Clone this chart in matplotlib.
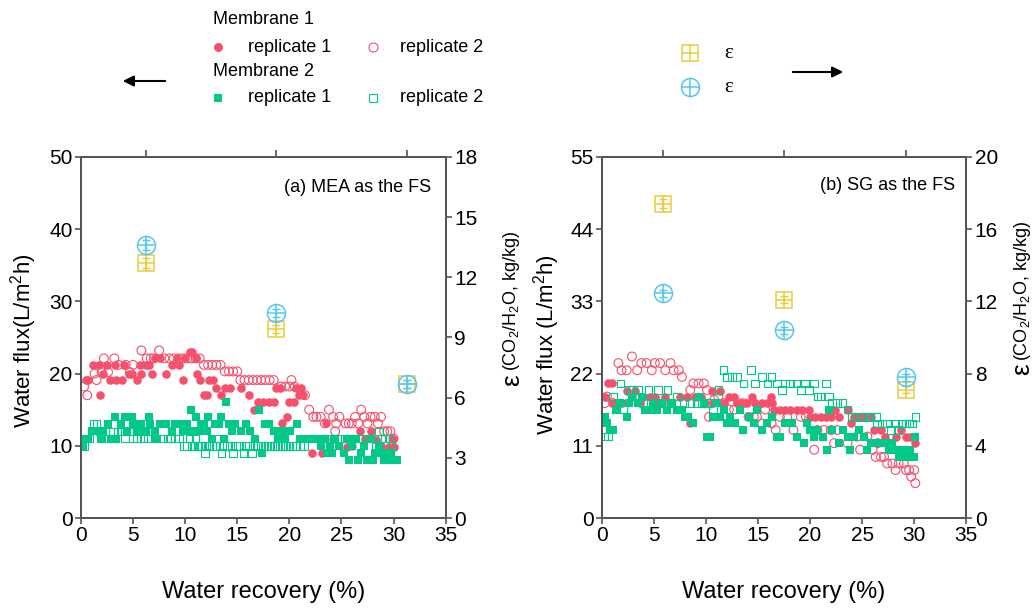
import matplotlib
matplotlib.use("Agg")
import matplotlib.pyplot as plt
from matplotlib.lines import Line2D

plt.rcParams['font.family'] = ['Liberation Sans', 'DejaVu Sans']
plt.rcParams['mathtext.fontset'] = 'custom'
plt.rcParams['mathtext.rm'] = 'Liberation Sans'
plt.rcParams['mathtext.it'] = 'Liberation Sans:italic'

RED = '#f5506c'
GREEN = '#00c98a'
YELLOW = '#ebcb3a'
BLUE = '#53c6f4'
SPINE = '#555555'

# ---------------- panel (a): MEA as the FS ----------------
a_m1r1_x = [0.5, 0.7, 1.2, 1.7, 1.8, 2.1, 2.5, 2.8, 3.3, 3.4, 3.9, 4.1, 4.6, 4.9, 5.35, 5.7, 5.8,
            6.2, 6.5, 6.8, 7.1, 7.6, 8.2, 8.7, 9.2, 9.4, 9.8, 10.0, 10.5, 10.7, 11.0, 11.1, 11.4,
            11.8, 12.1, 12.3, 12.7, 13.0, 13.4, 13.8, 14.3, 15.4, 16.1, 16.6, 17.0, 17.5, 18.0,
            18.5, 18.7, 19.1, 19.3, 19.8, 20.0, 20.4, 20.6, 20.9, 21.1, 21.3, 22.2, 23.1, 23.5,
            24.2, 25.5, 26.0, 26.8, 27.3, 27.8, 28.3, 28.8, 29.6, 29.9, 30.0]
a_m1r1_y = [19.1, 19.1, 21.2, 21.2, 17.0, 20.0, 21.2, 19.1, 21.2, 19.1, 19.1, 21.2, 20.0, 20.0, 19.1, 21.2, 20.0,
            21.2, 21.2, 20.0, 22.1, 22.1, 20.0, 21.2, 22.1, 21.2, 19.1, 22.1, 23.0, 23.0, 22.1, 20.0, 19.1,
            17.0, 17.0, 19.1, 19.1, 18.0, 17.0, 18.0, 18.0, 18.0, 17.0, 15.0, 16.1, 16.1, 16.1,
            16.1, 18.0, 18.0, 13.1, 14.0, 16.1, 16.1, 18.0, 17.0, 18.0, 17.0, 9.0, 9.0, 13.1,
            11.0, 9.9, 10.0, 12.0, 11.0, 12.0, 10.8, 10.0, 9.9, 11.0, 9.9]

a_m1r2_x = [0.3, 0.6, 1.3, 1.5, 2.0, 2.2, 2.6, 3.2, 3.6, 4.3, 4.7, 5.0, 5.8, 6.3, 6.7, 7.0, 7.5,
            8.0, 8.5, 8.9, 9.4, 9.8, 10.2, 10.6, 11.0, 11.4, 11.8, 12.2, 12.6, 13.0, 13.4, 13.8,
            14.2, 14.6, 15.0, 15.3, 15.7, 16.1, 16.5, 16.9, 17.3, 17.7, 18.1, 18.5, 19.2, 19.6,
            20.0, 20.2, 20.5, 21.5, 21.9, 22.3, 22.6, 23.0, 23.4, 23.8, 24.2, 24.4, 24.5, 24.8,
            25.4, 25.7, 26.0, 26.3, 26.6, 26.9, 27.2, 27.5, 27.8, 28.2, 28.5, 28.8, 29.1, 29.4,
            29.7, 30.0]
a_m1r2_y = [18.2, 17.0, 20.0, 19.1, 20.2, 22.1, 20.2, 22.1, 21.2, 21.2, 20.2, 21.2, 23.2, 22.1, 22.1, 22.1, 23.2,
            22.1, 22.1, 22.1, 22.1, 22.1, 22.1, 22.1, 22.1, 22.1, 21.2, 21.2, 21.2, 21.2, 21.2, 20.3,
            20.3, 20.3, 20.3, 19.1, 19.1, 19.1, 19.1, 19.1, 19.1, 19.1, 19.1, 19.1, 18.2, 18.2,
            18.2, 19.1, 18.2, 17.0, 15.0, 14.0, 14.0, 14.0, 13.1, 15.0, 14.0, 12.0, 13.1, 14.0,
            13.1, 13.1, 13.1, 14.0, 13.1, 15.0, 14.0, 13.1, 14.0, 14.0, 13.1, 14.0, 12.0, 12.0,
            12.0, 11.0]

a_m2r1_x = [0.2, 0.4, 0.7, 1.1, 1.4, 1.9, 2.1, 2.6, 2.9, 3.3, 3.4, 3.8, 4.2, 4.4, 4.9, 5.0, 5.5,
            5.8, 6.2, 6.5, 6.6, 7.1, 7.3, 7.6, 8.2, 8.7, 9.0, 9.5, 9.8, 10.2, 10.55, 10.6, 11.0,
            11.3, 11.5, 11.8, 12.1, 12.2, 12.6, 12.9, 13.2, 13.4, 13.7, 13.9, 14.2, 14.5, 14.8,
            15.4, 15.8, 16.2, 16.7, 17.1, 17.4, 17.7, 18.0, 18.5, 18.9, 19.3, 19.6, 20.1, 20.7,
            21.0, 21.4, 21.8, 22.2, 22.6, 23.0, 23.3, 23.6, 23.9, 24.1, 24.4, 24.8, 25.2, 25.5,
            25.7, 26.0, 26.4, 26.6, 26.9, 27.2, 27.5, 27.8, 28.0, 28.2, 28.6, 28.9, 29.1, 29.4,
            29.6, 29.8, 30.1, 30.3]
a_m2r1_y = [10.0, 11.0, 11.0, 12.0, 12.0, 11.0, 12.0, 13.0, 11.0, 14.0, 11.0, 13.0, 14.0, 12.0, 14.0, 13.0, 12.0,
            13.0, 12.0, 14.0, 13.0, 12.0, 11.0, 13.0, 13.0, 12.0, 13.0, 13.0, 12.0, 13.0, 15.0, 12.0, 14.0,
            12.0, 13.0, 13.0, 12.0, 14.0, 11.0, 13.0, 13.0, 14.0, 11.0, 16.1, 13.0, 12.0, 13.0,
            12.0, 13.0, 12.0, 11.0, 15.0, 9.0, 13.0, 13.0, 12.0, 11.0, 12.0, 11.0, 12.0, 13.0,
            11.0, 11.0, 11.0, 11.0, 11.0, 10.0, 11.0, 9.0, 10.0, 9.0, 11.0, 10.0, 9.0, 11.0,
            8.0, 10.0, 11.0, 8.0, 9.0, 10.0, 8.0, 11.0, 8.0, 9.0, 10.0, 9.0, 8.0, 9.0,
            8.0, 9.0, 8.0, 8.0]

a_m2r2_x = [0.1, 0.3, 0.8, 1.2, 1.5, 1.8, 2.3, 2.7, 3.1, 3.5, 3.9, 4.2, 4.6, 5.0, 5.4, 5.6, 6.0,
            6.4, 6.9, 7.2, 7.8, 8.3, 8.6, 9.0, 9.4, 9.9, 10.2, 10.4, 10.6, 10.8, 11.0, 11.2, 11.4,
            11.6, 11.9, 12.0, 12.3, 12.6, 12.9, 13.1, 13.3, 13.5, 13.7, 14.0, 14.3, 14.6, 14.9,
            15.2, 15.6, 15.8, 16.1, 16.4, 16.7, 17.0, 17.3, 17.6, 17.9, 18.2, 18.5, 18.8, 19.1,
            19.4, 19.7, 20.0, 20.3, 20.6, 21.0, 21.4, 21.8, 22.3, 22.8, 23.3, 23.8, 24.3, 24.8,
            25.3, 25.8, 26.3, 26.8, 27.3, 27.8, 28.3, 28.6, 28.9, 29.2, 29.5, 29.8]
a_m2r2_y = [11.0, 10.0, 11.0, 13.0, 13.0, 12.0, 12.0, 11.0, 12.0, 12.0, 12.0, 11.0, 12.0, 11.0, 11.0, 12.0, 11.0,
            11.0, 12.0, 11.0, 11.0, 11.0, 11.0, 11.0, 11.0, 10.0, 10.0, 11.0, 10.0, 10.0, 11.0, 10.0, 10.0,
            10.0, 9.0, 10.0, 10.0, 10.0, 10.0, 11.0, 10.0, 9.0, 10.0, 10.0, 10.0, 9.0, 10.0,
            10.0, 9.0, 10.0, 10.0, 9.0, 10.0, 10.0, 10.0, 10.0, 10.0, 10.0, 10.0, 10.0, 10.0,
            10.0, 10.0, 10.0, 10.0, 10.0, 10.0, 10.0, 11.0, 11.0, 11.0, 11.0, 11.0, 11.0, 11.0,
            11.0, 11.0, 11.0, 11.0, 11.0, 11.0, 10.0, 12.0, 11.0, 11.0, 11.0, 10.0]

a_eps_x = [6.25, 18.75, 31.25]
a_eps_sq = [12.7, 9.4, 6.7]
a_eps_ci = [13.6, 10.2, 6.7]
a_eps_sq_err = [0.25, 0.2, 0.2]
a_eps_ci_err = [0.25, 0.2, 0.2]

# ---------------- panel (b): SG as the FS ----------------
b_m1r1_x = [0.3, 0.6, 1.0, 1.1, 1.9, 2.4, 2.9, 3.2, 3.7, 4.0, 4.6, 5.1, 5.6, 6.1, 6.6, 7.5, 8.2,
            8.5, 9.0, 9.5, 9.9, 10.6, 10.7, 11.4, 11.7, 12.2, 12.7, 13.0, 13.5, 13.9, 14.4, 14.7,
            15.4, 15.9, 16.2, 16.3, 16.5, 17.1, 17.6, 18.1, 18.7, 19.2, 19.9, 20.0, 20.5, 21.0,
            21.5, 22.0, 22.4, 22.8, 23.6, 23.9, 24.2, 24.7, 25.2, 25.8, 26.1, 26.8, 27.2, 28.2,
            28.7, 29.2, 29.6, 30.1]
b_m1r1_y = [18.5, 20.5, 20.5, 17.5, 17.5, 19.4, 18.5, 19.4, 17.5, 18.5, 18.5, 18.5, 17.5, 18.5, 17.5, 18.5, 18.5,
            14.4, 18.5, 18.5, 17.5, 19.4, 17.5, 19.4, 17.5, 18.5, 18.5, 17.5, 17.5, 17.5, 18.5, 17.5,
            17.5, 17.5, 18.5, 17.5, 16.5, 16.5, 16.5, 16.5, 16.5, 16.5, 16.5, 15.4, 15.4, 15.4,
            15.4, 15.4, 16.5, 15.4, 16.5, 14.4, 15.4, 15.4, 15.4, 15.4, 13.4, 13.4, 12.4, 12.4,
            13.4, 12.4, 12.4, 11.4]

b_m1r2_x = [0.3, 0.5, 1.1, 1.6, 1.9, 2.4, 2.9, 3.4, 3.8, 4.3, 4.8, 5.1, 5.6, 6.1, 6.6, 6.9, 7.4,
            7.7, 8.5, 8.8, 9.3, 9.8, 10.1, 10.3, 10.8, 11.2, 11.7, 12.2, 12.7, 13.1, 13.6, 14.1,
            14.6, 14.9, 15.4, 15.7, 16.3, 16.7, 17.1, 17.8, 18.4, 19.1, 19.6, 20.4, 20.7, 21.3,
            22.0, 22.3, 22.6, 23.6, 24.5, 24.8, 25.5, 26.0, 26.3, 26.5, 26.8, 27.1, 27.4, 27.9,
            28.2, 28.5, 29.0, 29.2, 29.5, 29.7, 30.0, 30.1]
b_m1r2_y = [17.5, 18.5, 17.5, 23.6, 22.5, 22.5, 24.6, 22.5, 23.6, 23.6, 22.5, 23.6, 23.6, 22.5, 23.6, 22.5, 22.5,
            21.5, 19.5, 20.5, 20.5, 20.5, 19.5, 15.4, 18.0, 18.5, 17.5, 16.5, 16.5, 17.5, 17.5, 15.4,
            15.4, 15.4, 14.4, 16.5, 14.4, 13.4, 15.4, 15.4, 13.4, 15.4, 15.4, 10.4, 13.4, 13.4,
            13.4, 11.4, 13.4, 11.4, 12.4, 10.4, 12.4, 10.4, 9.3, 11.4, 9.3, 9.3, 8.3, 8.3,
            7.3, 8.3, 8.3, 7.3, 7.3, 6.3, 7.3, 5.3]

b_m2r1_x = [0.3, 0.5, 0.8, 1.1, 1.4, 1.8, 2.4, 2.6, 2.9, 3.5, 3.9, 4.2, 4.6, 4.9, 5.3, 5.8, 6.3,
            6.7, 7.2, 7.7, 8.0, 8.3, 8.8, 9.3, 9.8, 10.1, 10.4, 10.7, 11.1, 11.4, 11.7, 12.0,
            12.3, 12.8, 13.3, 13.6, 14.1, 14.6, 14.9, 15.4, 15.9, 16.3, 16.8, 17.1, 17.6, 18.3,
            18.7, 19.4, 19.7, 20.0, 20.4, 20.7, 21.2, 21.6, 21.8, 22.1, 22.8, 23.2, 23.6, 23.8,
            24.2, 24.7, 25.2, 25.5, 25.8, 26.2, 26.8, 27.2, 27.6, 27.9, 28.2, 28.5, 28.8, 29.2,
            29.6, 30.0, 30.1]
b_m2r1_y = [15.4, 14.4, 13.4, 13.4, 16.5, 17.5, 15.4, 17.5, 18.5, 17.5, 18.5, 16.5, 16.5, 17.5, 16.5, 17.5, 16.5,
            17.5, 16.5, 16.5, 15.4, 15.4, 14.4, 18.5, 17.5, 12.4, 12.4, 15.4, 17.5, 15.4, 16.5, 14.4,
            15.4, 14.4, 16.5, 13.4, 15.4, 14.4, 16.5, 13.4, 14.4, 15.4, 12.4, 12.4, 14.4, 14.4,
            12.4, 11.4, 14.4, 13.4, 12.4, 13.4, 12.4, 10.4, 16.5, 13.4, 11.4, 13.4, 12.4, 10.4,
            12.4, 13.4, 12.4, 10.4, 11.4, 11.4, 11.4, 11.4, 10.4, 11.4, 10.4, 9.3, 10.4, 9.3,
            10.4, 9.3, 12.4]

b_m2r2_x = [0.2, 0.6, 1.1, 1.8, 2.1, 2.6, 3.0, 3.5, 4.0, 4.5, 5.0, 5.4, 5.9, 6.3, 6.7, 7.2, 7.9,
            8.5, 9.1, 9.6, 10.2, 10.7, 11.2, 11.7, 12.0, 12.5, 13.0, 13.6, 14.3, 14.7, 15.4, 15.9,
            16.3, 16.8, 17.3, 17.6, 18.1, 18.7, 19.1, 19.5, 19.9, 20.4, 20.7, 21.0, 21.5, 21.8,
            22.1, 22.6, 23.1, 23.6, 24.0, 24.5, 25.0, 25.5, 25.8, 26.3, 26.4, 26.9, 27.4, 27.7,
            28.2, 28.5, 28.8, 29.2, 29.5, 29.8, 30.1]
b_m2r2_y = [12.4, 12.4, 18.5, 20.5, 16.5, 19.5, 19.5, 19.5, 17.5, 19.5, 17.5, 19.5, 17.5, 19.5, 17.5, 18.5, 17.5,
            17.5, 17.5, 17.5, 17.5, 16.5, 19.5, 22.5, 21.5, 21.5, 21.5, 20.5, 22.5, 20.5, 21.5, 20.5,
            21.5, 20.5, 19.5, 20.5, 20.5, 20.5, 19.5, 20.5, 19.5, 20.5, 18.5, 18.5, 20.5, 18.5,
            17.5, 17.5, 17.5, 16.5, 15.4, 15.4, 15.4, 15.4, 15.4, 15.4, 14.4, 14.4, 14.4, 13.4,
            14.4, 13.4, 14.4, 14.4, 14.4, 14.4, 15.4]

b_eps_x = [5.9, 17.5, 29.2]
b_eps_sq = [17.4, 12.1, 7.1]
b_eps_ci = [12.45, 10.4, 7.8]
b_eps_sq_err = [0.25, 0.2, 0.2]
b_eps_ci_err = [0.2, 0.2, 0.2]


def px(x, y):
    return x / 1033, 1 - y / 608


fig = plt.figure(figsize=(10.33, 6.08), dpi=100)


def style_axis(ax):
    for sp in ax.spines.values():
        sp.set_color(SPINE)
        sp.set_linewidth(1.3)
    ax.tick_params(direction='out', length=4, width=1.2, color=SPINE,
                   labelsize=15, pad=2)


def draw_panel(left, flux, eps, ylim, yticks, ylim_r, yticks_r, ylabel, ylabel_xy,
               rlabel_xy, tag):
    ax = fig.add_axes([left, 0.148, 0.353, 0.594])
    (m1r1x, m1r1y), (m1r2x, m1r2y), (m2r1x, m2r1y), (m2r2x, m2r2y) = flux
    ax.scatter(m1r1x, m1r1y, s=38, marker='o', color=RED, linewidths=0, zorder=2)
    ax.scatter(m1r2x, m1r2y, s=40, marker='o', facecolors='none', edgecolors=RED,
               linewidths=0.8, zorder=2)
    ax.scatter(m2r2x, m2r2y, s=30, marker='s', facecolors='none', edgecolors=GREEN,
               linewidths=0.8, zorder=3)
    ax.scatter(m2r1x, m2r1y, s=32, marker='s', color=GREEN, linewidths=0, zorder=3)
    ax.set_xlim(0, 35)
    ax.set_xticks(range(0, 36, 5))
    ax.set_ylim(*ylim)
    ax.set_yticks(yticks)
    ax.set_xlabel('Water recovery (%)', fontsize=17, labelpad=26)
    ax.set_ylabel(ylabel, fontsize=16)
    ax.yaxis.set_label_coords(*ylabel_xy)
    style_axis(ax)

    top = ax.secondary_xaxis('top')
    top.set_xticks(eps[0])
    top.set_xticklabels([])
    top.tick_params(direction='out', length=5, width=1.2, color=SPINE)
    top.spines['top'].set_color(SPINE)
    top.spines['top'].set_linewidth(1.3)

    ax2 = ax.twinx()
    ex, sq, ci, sq_err, ci_err = eps
    ax2.errorbar(ex, sq, yerr=sq_err, fmt='none', ecolor=YELLOW, elinewidth=1,
                 capsize=3, zorder=4)
    ax2.plot(ex, sq, 's', mfc='none', mec=YELLOW, ms=11, mew=1.1, zorder=4)
    ax2.plot(ex, sq, '+', color=YELLOW, ms=11, mew=1.1, zorder=4)
    ax2.errorbar(ex, ci, yerr=ci_err, fmt='none', ecolor=BLUE, elinewidth=1,
                 capsize=3, zorder=5)
    ax2.plot(ex, ci, 'o', mfc='none', mec=BLUE, ms=13, mew=1.1, zorder=5)
    ax2.plot(ex, ci, '+', color=BLUE, ms=13, mew=1.1, zorder=5)
    ax2.set_ylim(*ylim_r)
    ax2.set_yticks(yticks_r)
    ax2.set_ylabel('(CO$_2$/H$_2$O, kg/kg)', fontsize=13)
    ax2.yaxis.set_label_coords(*rlabel_xy)
    style_axis(ax2)

    ax.text(tag[1], tag[2], tag[0], transform=ax.transAxes, ha='right',
            va='center', fontsize=13)
    return ax2


ax2a = draw_panel(0.0784,
                  [(a_m1r1_x, a_m1r1_y), (a_m1r2_x, a_m1r2_y),
                   (a_m2r1_x, a_m2r1_y), (a_m2r2_x, a_m2r2_y)],
                  (a_eps_x, a_eps_sq, a_eps_ci, a_eps_sq_err, a_eps_ci_err),
                  (0, 50), range(0, 51, 10), (0, 18), range(0, 19, 3),
                  'Water flux(L/m$^2$h)', (-0.115, 0.49), (1.153, 0.60),
                  ('(a) MEA as the FS', 0.96, 0.914))

ax2b = draw_panel(0.5825,
                  [(b_m1r1_x, b_m1r1_y), (b_m1r2_x, b_m1r2_y),
                   (b_m2r1_x, b_m2r1_y), (b_m2r2_x, b_m2r2_y)],
                  (b_eps_x, b_eps_sq, b_eps_ci, b_eps_sq_err, b_eps_ci_err),
                  (0, 55), range(0, 56, 11), (0, 20), range(0, 21, 4),
                  'Water flux (L/m$^2$h)', (-0.109, 0.48), (1.125, 0.63),
                  ('(b) SG as the FS', 0.97, 0.922))

# big epsilon placed just below each right-hand axis label
fig.canvas.draw()
W, H = fig.bbox.width, fig.bbox.height
for a2 in (ax2a, ax2b):
    bb = a2.yaxis.label.get_window_extent()
    fig.text((bb.x0 + bb.x1) / 2 / W, (bb.y0 - 3) / H, 'ε', rotation=90,
             ha='center', va='top', fontsize=19)

# ---------------- legends drawn in figure space ----------------
fig.text(*px(213, 20), 'Membrane 1', fontsize=13, va='center')
fig.text(*px(213, 72), 'Membrane 2', fontsize=13, va='center')
for row_y, mk in [(47, 'o'), (98, 's')]:
    col = RED if mk == 'o' else GREEN
    ms = 6.5 if mk == 'o' else 5.5
    fig.add_artist(Line2D([218 / 1033], [1 - row_y / 608], marker=mk, ms=ms,
                          color=col, mew=0, transform=fig.transFigure))
    fig.add_artist(Line2D([373 / 1033], [1 - row_y / 608], marker=mk, ms=ms,
                          mfc='none', mec=col, mew=0.8, transform=fig.transFigure))
    fig.text(*px(248, row_y), 'replicate 1', fontsize=13, va='center')
    fig.text(*px(400, row_y), 'replicate 2', fontsize=13, va='center')

fx, fy = px(690, 53)
fig.add_artist(Line2D([fx], [fy], marker='s', ms=11, mfc='none', mec=YELLOW,
                      mew=1.1, transform=fig.transFigure))
fig.add_artist(Line2D([fx], [fy], marker='+', ms=11, color=YELLOW,
                      mew=1.1, transform=fig.transFigure))
fx, fy = px(690, 87)
fig.add_artist(Line2D([fx], [fy], marker='o', ms=13, mfc='none', mec=BLUE,
                      mew=1.1, transform=fig.transFigure))
fig.add_artist(Line2D([fx], [fy], marker='+', ms=13, color=BLUE,
                      mew=1.1, transform=fig.transFigure))
fig.text(*px(724, 53), 'ε', fontsize=15, va='center', family=['Liberation Serif'])
fig.text(*px(724, 87), 'ε', fontsize=15, va='center', family=['Liberation Serif'])

fig.add_artist(matplotlib.patches.FancyArrowPatch(
    px(168, 81), px(120, 81), transform=fig.transFigure, arrowstyle='-|>',
    mutation_scale=16, color='black', lw=1.5))
fig.add_artist(matplotlib.patches.FancyArrowPatch(
    px(790, 72), px(846, 72), transform=fig.transFigure, arrowstyle='-|>',
    mutation_scale=16, color='black', lw=1.5))

fig.savefig('out.png', dpi=100)
